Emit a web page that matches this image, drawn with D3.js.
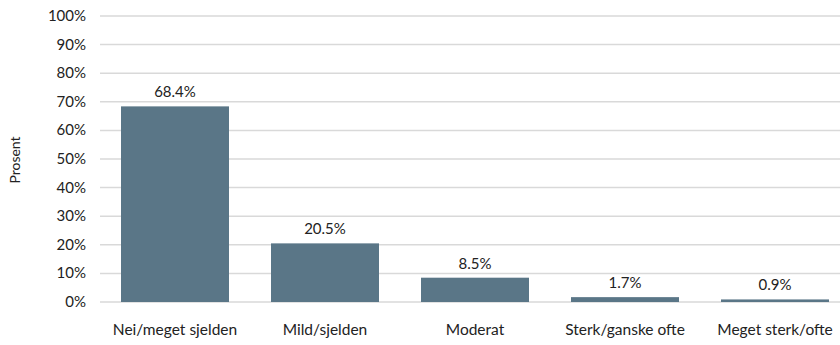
<!DOCTYPE html>
<html><head><meta charset="utf-8">
<script src="https://cdn.jsdelivr.net/npm/d3@7"></script>
<style>body{margin:0;background:#fff;} text{font-family:Lato,"Open Sans",sans-serif;fill:#222;}</style>
</head><body><svg id="c" width="840" height="345"></svg>
<script>
const categories = ["Nei/meget sjelden","Mild/sjelden","Moderat","Sterk/ganske ofte","Meget sterk/ofte"];
const values = [68.4, 20.5, 8.5, 1.7, 0.9];
const yTicks = [0,10,20,30,40,50,60,70,80,90,100];

const svg = d3.select("#c");
const x = d3.scaleBand().domain(categories).range([100, 850]).paddingInner(0.28).paddingOuter(0.14);
const y = d3.scaleLinear().domain([0,100]).range([302, 16]);

svg.append("g").selectAll("line").data(yTicks).join("line")
  .attr("x1",100).attr("x2",840).attr("y1",d=>y(d)).attr("y2",d=>y(d))
  .attr("stroke","#d9d9d9").attr("stroke-width",1.5);

svg.append("g").selectAll("text").data(yTicks).join("text")
  .attr("x",86).attr("y",d=>y(d)+5).attr("text-anchor","end").attr("font-size",15)
  .text(d=>d+"%");

svg.append("g").selectAll("rect").data(values).join("rect")
  .attr("x",(d,i)=>x(categories[i])).attr("width",x.bandwidth())
  .attr("y",d=>y(d)).attr("height",d=>y(0)-y(d)).attr("fill","#5a7687");

svg.append("g").selectAll("text").data(values).join("text")
  .attr("x",(d,i)=>x(categories[i])+x.bandwidth()/2).attr("y",d=>y(d)-9)
  .attr("text-anchor","middle").attr("font-size",15).text(d=>d.toFixed(1)+"%");

svg.append("g").selectAll("text").data(categories).join("text")
  .attr("x",d=>x(d)+x.bandwidth()/2).attr("y",335)
  .attr("text-anchor","middle").attr("font-size",15.5).text(d=>d);

svg.append("text").attr("transform","translate(20,160) rotate(-90)")
  .attr("text-anchor","middle").attr("font-size",14).text("Prosent");
</script></body></html>
